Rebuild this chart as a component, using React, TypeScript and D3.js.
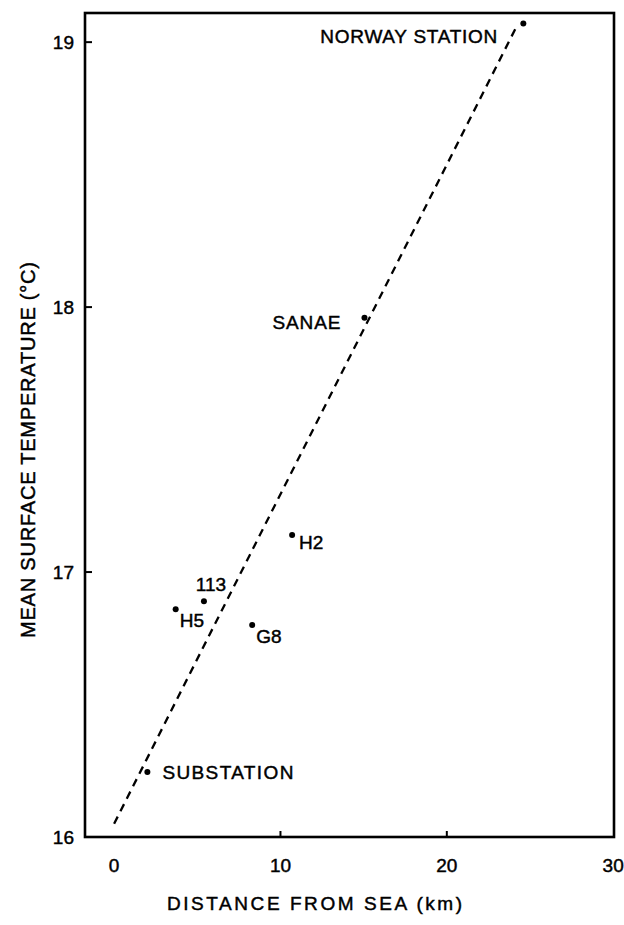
import React from "react";
import * as d3 from "d3";

// Data
const stations = ["NORWAY STATION", "SANAE", "H2", "113", "H5", "G8", "SUBSTATION"];
const distanceKm = [24.6, 15.05, 10.7, 5.4, 3.7, 8.3, 2.0];
const meanTempC = [19.07, 17.96, 17.14, 16.89, 16.86, 16.8, 16.245];

const fitDistance = [0, 24.2];
const fitTemp = [16.05, 19.06];

const xTicks = [0, 10, 20, 30];
const yTicks = [16, 17, 18, 19];

const xTitle = "DISTANCE FROM SEA (km)";
const yTitle = "MEAN SURFACE TEMPERATURE (°C)";

// Layout of annotations (offset from point, anchor, fitted width)
const labelLayout: Record<string, { dx: number; dy: number; anchor: string; len?: number }> = {
  "NORWAY STATION": { dx: -26, dy: 13, anchor: "end", len: 177 },
  SANAE: { dx: -24, dy: 4, anchor: "end", len: 68 },
  H2: { dx: 7, dy: 7, anchor: "start" },
  "113": { dx: 7, dy: -17, anchor: "middle" },
  H5: { dx: 4, dy: 11, anchor: "start" },
  G8: { dx: 4, dy: 11, anchor: "start" },
  SUBSTATION: { dx: 15, dy: 0, anchor: "start", len: 131 },
};

const W = 624;
const H = 925;
const L = 85, R = 614, T = 13, B = 837;
const FONT = "'Liberation Sans', Arial, sans-serif";

export default function App() {
  const x = d3.scaleLinear().domain([-1.75, 30.05]).range([L, R]);
  const y = d3.scaleLinear().domain([16, 19.11]).range([B, T]);
  const line = d3
    .line<number>()
    .x((_, i) => x(fitDistance[i]))
    .y((d) => y(d));

  const textStyle = { stroke: "#000", strokeWidth: 0.45 };

  return (
    <svg
      width={W}
      height={H}
      style={{ position: "absolute", left: 0, top: 0, background: "#fff" }}
      fontFamily={FONT}
    >
      <rect x={0} y={0} width={W} height={H} fill="#fff" />
      {/* fitted line */}
      <path
        d={line(fitTemp) || ""}
        fill="none"
        stroke="#000"
        strokeWidth={2.3}
        strokeDasharray="8 6"
      />
      {/* frame */}
      <rect x={L} y={T} width={R - L} height={B - T} fill="none" stroke="#000" strokeWidth={2.6} />
      {/* y ticks */}
      {yTicks.map((t) => (
        <g key={"y" + t}>
          {t > 16 && <line x1={L} x2={L + 7} y1={y(t)} y2={y(t)} stroke="#000" strokeWidth={2} />}
          <text x={L - 11} y={y(t)} dy="0.36em" textAnchor="end" fontSize={19} style={textStyle}>
            {t}
          </text>
        </g>
      ))}
      {/* x ticks */}
      {xTicks.map((t) => (
        <g key={"x" + t}>
          {t > 0 && t < 30 && (
            <line x1={x(t)} x2={x(t)} y1={B} y2={B - 6} stroke="#000" strokeWidth={2} />
          )}
          <text x={x(t)} y={865} dy="0.36em" textAnchor="middle" fontSize={19} style={textStyle}>
            {t}
          </text>
        </g>
      ))}
      {/* points and labels */}
      {stations.map((s, i) => {
        const px = x(distanceKm[i]);
        const py = y(meanTempC[i]);
        const lay = labelLayout[s];
        return (
          <g key={s}>
            <circle cx={px} cy={py} r={3} fill="#000" />
            <text
              x={px + lay.dx}
              y={py + lay.dy}
              dy="0.36em"
              textAnchor={lay.anchor}
              fontSize={19}
              style={textStyle}
              {...(lay.len ? { textLength: lay.len, lengthAdjust: "spacing" } : {})}
            >
              {s}
            </text>
          </g>
        );
      })}
      {/* axis titles */}
      <text
        x={(167 + 462) / 2}
        y={903}
        dy="0.36em"
        textAnchor="middle"
        fontSize={19}
        textLength={295}
        lengthAdjust="spacing"
        style={textStyle}
      >
        {xTitle}
      </text>
      <text
        transform={`translate(28, 450) rotate(-90)`}
        dy="0.36em"
        textAnchor="middle"
        fontSize={20}
        textLength={376}
        lengthAdjust="spacing"
        style={textStyle}
      >
        {yTitle}
      </text>
    </svg>
  );
}
